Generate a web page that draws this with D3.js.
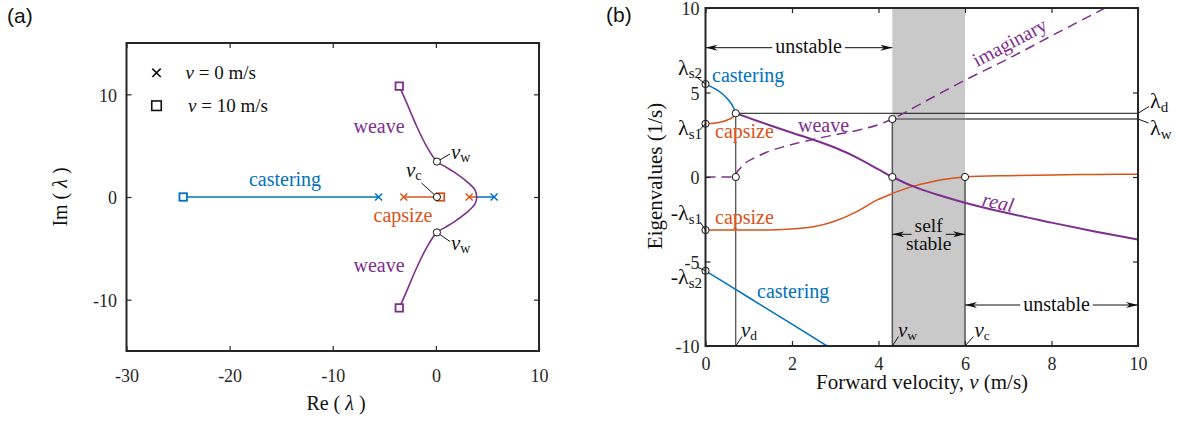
<!DOCTYPE html>
<html><head><meta charset="utf-8">
<script src="https://cdn.jsdelivr.net/npm/d3@7"></script>
<style>
body{margin:0;background:#fff}
</style></head><body>
<svg id="c" width="1179" height="421"></svg>
<script>
// ================= DATA =================
// Panel (a): root locus (Re, Im of eigenvalues)
const aXTicks = [-30, -20, -10, 0, 10];
const aYTicks = [-10, 0, 10];
const legendLabels = ["0 m/s", "10 m/s"];
const casteringLeftRe  = [-24.5, -5.55];
const casteringRightRe = [5.65, 3.97];
const capsizeLeftRe    = [-3.11, 0.45];
const capsizeRightRe   = [3.23, 3.97];
const weaveRe      = [3.97, 3.8, 3.0, 1.7, 0.9, 0.1, -0.88, -1.85, -2.8, -3.55];
const weaveImUpper = [0, 0.68, 1.5, 2.47, 2.96, 3.45, 4.9, 6.87, 9.1, 10.8];
const weaveImLower = [0, -0.68, -1.5, -2.47, -2.96, -3.45, -4.9, -6.87, -9.1, -10.8];
const startCrossRe   = [-5.55, -3.11, 3.23, 5.65];          // v = 0 m/s
const startCrossMode = ["castering", "capsize", "capsize", "castering"];
const endSquareRe    = [-24.5, 0.45, -3.55, -3.55];         // v = 10 m/s
const endSquareIm    = [0, 0, 10.8, -10.8];
const endSquareMode  = ["castering", "capsize", "weave", "weave"];
const critCircleRe = [0.1, 0.1, 0.1];
const critCircleIm = [3.45, 0, -3.45];

// Panel (b): eigenvalues vs forward velocity
const bXTicks = [0, 2, 4, 6, 8, 10];
const bYTicks = [-10, -5, 0, 5, 10];
const vSplit          = [0, 0.2, 0.4, 0.55, 0.65, 0.7];
const casteringUpper  = [5.5, 5.25, 4.9, 4.5, 4.1, 3.77];
const capsizeUpper    = [3.15, 3.18, 3.28, 3.42, 3.58, 3.77];
const vWeaveReal      = [0.7, 1, 1.5, 2, 2.5, 3, 3.5, 4, 4.32, 5, 5.5, 6, 7, 8, 9, 10];
const weaveReal       = [3.77, 3.5, 3.05, 2.62, 2.2, 1.73, 1.15, 0.45, 0, -0.75, -1.15, -1.52, -2.15, -2.7, -3.22, -3.7];
const vWeaveImag      = [0, 0.7, 0.72, 0.8, 0.9, 1.11, 1.4, 1.8, 2.2, 2.58, 3, 3.35, 3.57, 4, 4.32, 5.04, 6, 7, 8, 9.24];
const weaveImag       = [0, 0, 0.25, 0.5, 0.78, 1.1, 1.45, 1.79, 2.05, 2.28, 2.5, 2.67, 2.8, 3.1, 3.43, 4.42, 5.73, 7.0, 8.35, 10];
const vCapsizeLower   = [0, 1, 1.5, 2, 2.5, 2.95, 3.5, 3.96, 4.3, 4.73, 5.12, 5.5, 6, 7, 8, 9, 10];
const capsizeLower    = [-3.14, -3.14, -3.13, -3.08, -2.95, -2.65, -2.05, -1.37, -1.0, -0.6, -0.35, -0.15, 0, 0.08, 0.12, 0.15, 0.17];
const vCasteringLower = [0, 1, 2, 2.81];
const casteringLower  = [-5.55, -7.13, -8.71, -10];
const vD = 0.7, vW = 4.32, vC = 6.0;
const lambdaD = 3.77, lambdaW = 3.43;
const lambdaS1 = 3.15, lambdaS2 = 5.5, negLambdaS1 = -3.14, negLambdaS2 = -5.55;

// ================= STYLE =================
const BLUE = "#0072BD", ORANGE = "#D95319", PURPLE = "#7E2F8E", INK = "#262626";
const SERIF = "'Liberation Serif','Times New Roman',serif";
const SANS = "'Liberation Sans',Arial,sans-serif";
const modeColor = {castering: BLUE, capsize: ORANGE, weave: PURPLE};

const svg = d3.select("#c");
svg.attr("font-family", SERIF);
const defs = svg.append("defs");
defs.append("marker").attr("id", "arr").attr("viewBox", "0 0 12 6")
  .attr("refX", 12).attr("refY", 3).attr("markerWidth", 12).attr("markerHeight", 6)
  .attr("markerUnits", "userSpaceOnUse").attr("orient", "auto-start-reverse")
  .append("path").attr("d", "M0,0 L12,3 L0,6 L3.5,3 Z").attr("fill", "#111");

const aX = d3.scaleLinear().domain([-30, 10]).range([126.5, 539]);
const aY = d3.scaleLinear().domain([-15, 15]).range([351, 43]);
const bX = d3.scaleLinear().domain([0, 10]).range([705.5, 1138]);
const bY = d3.scaleLinear().domain([-10, 10]).range([346, 8]);

defs.append("clipPath").attr("id", "clipB").append("rect")
  .attr("x", 705.5).attr("y", 8).attr("width", 1138 - 705.5).attr("height", 338);

const fmt = d => d < 0 ? "-" + (-d) : String(d);

function drawAxes(x, y, xt, yt, padX, padY) {
  const [x0, x1] = x.range(), [y0, y1] = y.range();
  const g = svg.append("g");
  const parts = [
    g.append("g").attr("transform", `translate(0,${y0})`).call(d3.axisBottom(x).tickValues(xt).tickSize(-5).tickSizeOuter(0).tickPadding(padX).tickFormat(fmt)),
    g.append("g").attr("transform", `translate(0,${y1})`).call(d3.axisTop(x).tickValues(xt).tickSize(-5).tickSizeOuter(0).tickFormat("")),
    g.append("g").attr("transform", `translate(${x0},0)`).call(d3.axisLeft(y).tickValues(yt).tickSize(-5).tickSizeOuter(0).tickPadding(padY).tickFormat(fmt)),
    g.append("g").attr("transform", `translate(${x1},0)`).call(d3.axisRight(y).tickValues(yt).tickSize(-5).tickSizeOuter(0).tickFormat(""))
  ];
  parts.forEach(p => {
    p.attr("font-family", SERIF).attr("font-size", 18);
    p.select(".domain").remove();
    p.selectAll(".tick line").attr("stroke", INK).attr("stroke-width", 1.2);
    p.selectAll(".tick text").attr("fill", INK);
  });
  parts[2].selectAll(".tick text").attr("dy", "0.38em");
  g.append("rect").attr("x", x0).attr("y", y1).attr("width", x1 - x0).attr("height", y0 - y1)
    .attr("fill", "none").attr("stroke", INK).attr("stroke-width", 2);
  return g;
}

function txt(g, x, y, s, opt = {}) {
  const t = g.append("text").attr("x", x).attr("y", y).text(s)
    .attr("font-size", opt.size || 20).attr("fill", opt.fill || "#111")
    .attr("text-anchor", opt.anchor || "start");
  if (opt.italic) t.attr("font-style", "italic");
  if (opt.transform) t.attr("transform", opt.transform);
  return t;
}
function sub(g, x, y, main, subs, opt = {}) {
  const t = g.append("text").attr("x", x).attr("y", y)
    .attr("font-size", opt.size || 21).attr("fill", "#111").attr("text-anchor", opt.anchor || "start");
  t.append("tspan").text(main).attr("font-style", opt.italic ? "italic" : "normal");
  t.append("tspan").text(subs).attr("font-size", opt.subSize || 14).attr("dy", opt.dy || 4);
  return t;
}
function leader(g, x1, y1, x2, y2) {
  g.append("line").attr("x1", x1).attr("y1", y1).attr("x2", x2).attr("y2", y2)
    .attr("stroke", "#111").attr("stroke-width", 1);
}
function circ(g, x, y) {
  g.append("circle").attr("cx", x).attr("cy", y).attr("r", 3.6)
    .attr("fill", "#fff").attr("stroke", "#111").attr("stroke-width", 1);
}
function crossMark(g, x, y, color, s = 3.5, w = 1.5) {
  g.append("path").attr("d", `M${x - s},${y - s}L${x + s},${y + s}M${x - s},${y + s}L${x + s},${y - s}`)
    .attr("stroke", color).attr("stroke-width", w).attr("fill", "none");
}
function squareMark(g, x, y, color, s = 7.5, w = 1.8) {
  g.append("rect").attr("x", x - s / 2).attr("y", y - s / 2).attr("width", s).attr("height", s)
    .attr("fill", "#fff").attr("stroke", color).attr("stroke-width", w);
}
function dblArrow(g, xa, xb, y, label, tx, textDy = 5.6, size = 20) {
  const t = txt(g, tx, y + textDy, label, {anchor: "middle", size});
  const w = t.node().getComputedTextLength();
  g.append("line").attr("x1", tx - w / 2 - 3).attr("x2", xa).attr("y1", y).attr("y2", y)
    .attr("stroke", "#111").attr("stroke-width", 1).attr("marker-end", "url(#arr)");
  g.append("line").attr("x1", tx + w / 2 + 3).attr("x2", xb).attr("y1", y).attr("y2", y)
    .attr("stroke", "#111").attr("stroke-width", 1).attr("marker-end", "url(#arr)");
}

// ================= PANEL (a) =================
const ga = svg.append("g");
drawAxes(aX, aY, aXTicks, aYTicks, 18, 9.5);
const lineA = d3.line().x(d => aX(d[0])).y(d => aY(d[1]));
const lineAc = d3.line().x(d => aX(d[0])).y(d => aY(d[1])).curve(d3.curveCatmullRom.alpha(0.5));

[[casteringLeftRe, BLUE], [casteringRightRe, BLUE], [capsizeLeftRe, ORANGE], [capsizeRightRe, ORANGE]].forEach(([re, c]) => {
  ga.append("path").attr("d", lineA(re.map(r => [r, 0]))).attr("stroke", c).attr("stroke-width", 1.5).attr("fill", "none");
});
[weaveImUpper, weaveImLower].forEach(im => {
  ga.append("path").attr("d", lineAc(weaveRe.map((r, i) => [r, im[i]]))).attr("stroke", PURPLE).attr("stroke-width", 1.6).attr("fill", "none");
});
startCrossRe.forEach((r, i) => crossMark(ga, aX(r), aY(0), modeColor[startCrossMode[i]]));
endSquareRe.forEach((r, i) => squareMark(ga, aX(r), aY(endSquareIm[i]), modeColor[endSquareMode[i]]));
leader(ga, aX(critCircleRe[0]), aY(critCircleIm[0]), 450, 154);
leader(ga, aX(critCircleRe[1]), aY(critCircleIm[1]), 421.5, 183);
leader(ga, aX(critCircleRe[2]), aY(critCircleIm[2]), 450, 241.5);
critCircleRe.forEach((r, i) => circ(ga, aX(r), aY(critCircleIm[i])));
sub(ga, 451, 158.5, "v", "w", {italic: true, size: 21, dy: 3});
sub(ga, 406, 176.5, "v", "c", {italic: true, size: 21, dy: 3});
sub(ga, 451, 250, "v", "w", {italic: true, size: 21, dy: 3});

txt(ga, 285, 186, "castering", {anchor: "middle", fill: BLUE});
txt(ga, 379, 132.5, "weave", {anchor: "middle", fill: PURPLE});
txt(ga, 403, 222, "capsize", {anchor: "middle", fill: ORANGE});
txt(ga, 379, 271.5, "weave", {anchor: "middle", fill: PURPLE});

crossMark(ga, 156.5, 72.8, "#111", 4.2, 1.6);
squareMark(ga, 156.5, 105.7, "#111", 9.5, 1.6);
legendLabels.forEach((lab, i) => {
  const t = ga.append("text").attr("x", i === 0 ? 185.5 : 188).attr("y", i === 0 ? 78.5 : 111.5).attr("font-size", 19).attr("fill", "#111");
  t.append("tspan").text("v").attr("font-style", "italic");
  t.append("tspan").text(" = " + lab);
});

const ylA = ga.append("text").attr("transform", "translate(67,197) rotate(-90)").attr("text-anchor", "middle").attr("font-size", 20).attr("fill", "#111");
ylA.append("tspan").text("Im ( ");
ylA.append("tspan").text("λ").attr("font-style", "italic");
ylA.append("tspan").text(" )");
const xlA = ga.append("text").attr("x", 336).attr("y", 409.5).attr("text-anchor", "middle").attr("font-size", 20).attr("fill", "#111");
xlA.append("tspan").text("Re ( ");
xlA.append("tspan").text("λ").attr("font-style", "italic");
xlA.append("tspan").text(" )");

svg.append("text").attr("x", 7).attr("y", 23).attr("font-family", SANS).attr("font-size", 21).attr("fill", "#111").text("(a)");
svg.append("text").attr("x", 606).attr("y", 22).attr("font-family", SANS).attr("font-size", 21).attr("fill", "#111").text("(b)");

// ================= PANEL (b) =================
const gb = svg.append("g");
gb.append("rect").attr("x", bX(vW)).attr("y", bY(10)).attr("width", bX(vC) - bX(vW)).attr("height", bY(-10) - bY(10)).attr("fill", "#c9c9c9");
gb.append("line").attr("x1", bX(vD)).attr("x2", bX(vD)).attr("y1", bY(-10)).attr("y2", bY(lambdaD)).attr("stroke", "#222").attr("stroke-width", 1);
gb.append("line").attr("x1", bX(vW)).attr("x2", bX(vW)).attr("y1", bY(-10)).attr("y2", bY(lambdaW)).attr("stroke", "#555").attr("stroke-width", 1.5);
gb.append("line").attr("x1", bX(vC)).attr("x2", bX(vC)).attr("y1", bY(-10)).attr("y2", bY(0)).attr("stroke", "#555").attr("stroke-width", 1.5);
gb.append("line").attr("x1", bX(vW)).attr("x2", bX(10)).attr("y1", bY(lambdaW)).attr("y2", bY(lambdaW)).attr("stroke", "#808080").attr("stroke-width", 2);
gb.append("line").attr("x1", bX(vD)).attr("x2", bX(10)).attr("y1", bY(lambdaD)).attr("y2", bY(lambdaD)).attr("stroke", "#111").attr("stroke-width", 1);

drawAxes(bX, bY, bXTicks, bYTicks, 11, 6);

const dataB = gb.append("g").attr("clip-path", "url(#clipB)");
const lineB = d3.line().x(d => bX(d[0])).y(d => bY(d[1])).curve(d3.curveMonotoneX);
function curveB(vs, ls, color, w, dash) {
  const p = dataB.append("path").attr("d", lineB(vs.map((v, i) => [v, ls[i]])))
    .attr("stroke", color).attr("stroke-width", w).attr("fill", "none");
  if (dash) p.attr("stroke-dasharray", dash);
}
curveB(vCapsizeLower, capsizeLower, ORANGE, 1.5);
curveB(vCasteringLower, casteringLower, BLUE, 1.5);
curveB(vSplit, casteringUpper, BLUE, 1.5);
curveB(vSplit, capsizeUpper, ORANGE, 1.5);
curveB(vWeaveImag, weaveImag, PURPLE, 1.5, "10,6");
curveB(vWeaveReal, weaveReal, PURPLE, 2);

[[0, lambdaS2], [0, lambdaS1], [0, negLambdaS1], [0, negLambdaS2], [vD, lambdaD], [vD, 0], [vW, lambdaW], [vW, 0], [vC, 0]]
  .forEach(([v, l]) => circ(gb, bX(v), bY(l)));

leader(gb, bX(0), bY(lambdaS2), 697, 77.5);
leader(gb, bX(0), bY(lambdaS1), 699.5, 130);
leader(gb, bX(0), bY(negLambdaS1), 700, 222);
leader(gb, bX(0), bY(negLambdaS2), 697, 267);
sub(gb, 702, 75, "λ", "s2", {anchor: "end", size: 22, subSize: 15, dy: 3});
sub(gb, 702, 135, "λ", "s1", {anchor: "end", size: 22, subSize: 15, dy: 4});
sub(gb, 702, 220, "-λ", "s1", {anchor: "end", size: 22, subSize: 15, dy: 4});
sub(gb, 702, 283.5, "-λ", "s2", {anchor: "end", size: 22, subSize: 15, dy: 4});

leader(gb, bX(10), bY(lambdaD), 1149, 106.5);
leader(gb, bX(10), bY(lambdaW), 1148.5, 123);
sub(gb, 1150, 108, "λ", "d", {size: 22, subSize: 15, dy: 4});
sub(gb, 1150, 135, "λ", "w", {size: 22, subSize: 15, dy: 4});

leader(gb, bX(vD), bY(-10), 742, 336.5);
leader(gb, bX(vW), bY(-10), 898.5, 336.5);
leader(gb, bX(vC), bY(-10), 973.5, 336.5);
sub(gb, 741, 337, "v", "d", {italic: true, size: 21, subSize: 13.5, dy: 3});
sub(gb, 898, 337, "v", "w", {italic: true, size: 21, subSize: 13.5, dy: 3});
sub(gb, 974.5, 337, "v", "c", {italic: true, size: 21, subSize: 13.5, dy: 3});

txt(gb, 712, 82, "castering", {fill: BLUE});
txt(gb, 715, 138, "capsize", {fill: ORANGE});
txt(gb, 798, 131.5, "weave", {fill: PURPLE});
txt(gb, 715, 223.5, "capsize", {fill: ORANGE});
txt(gb, 757, 298, "castering", {fill: BLUE});
txt(gb, 0, 0, "imaginary", {anchor: "middle", fill: PURPLE, transform: "translate(1010,43) rotate(-28) translate(0,6)"});
txt(gb, 0, 0, "real", {anchor: "middle", fill: PURPLE, italic: true, transform: "translate(998,203) rotate(12) translate(0,6)"});

dblArrow(gb, bX(0), bX(vW), 47.7, "unstable", 808.5);
dblArrow(gb, bX(vC), bX(10), 305, "unstable", 1056.5);
dblArrow(gb, bX(vW), bX(vC), 234.3, "self", (bX(vW) + bX(vC)) / 2, -2.8, 19.5);
txt(gb, (bX(vW) + bX(vC)) / 2, 250, "stable", {anchor: "middle", size: 19.5});

gb.append("text").attr("transform", "translate(662,176) rotate(-90)").attr("text-anchor", "middle").attr("font-size", 21).attr("fill", "#111").text("Eigenvalues (1/s)");
const xlB = gb.append("text").attr("x", 922).attr("y", 389).attr("text-anchor", "middle").attr("font-size", 21).attr("fill", "#111");
xlB.append("tspan").text("Forward velocity, ");
xlB.append("tspan").text("v").attr("font-style", "italic");
xlB.append("tspan").text(" (m/s)");
</script>
</body></html>
